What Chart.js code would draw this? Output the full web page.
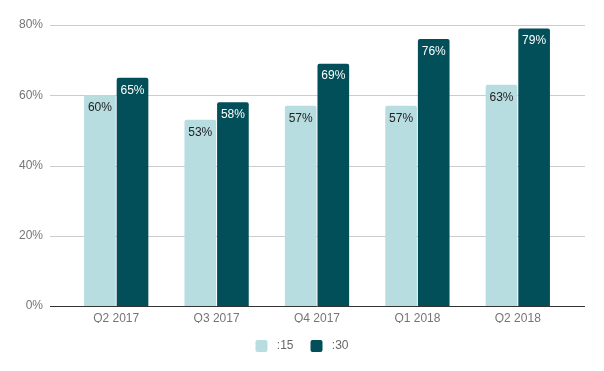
<!DOCTYPE html>
<html>
<head>
<meta charset="utf-8">
<script src="https://cdn.jsdelivr.net/npm/chart.js@4"></script>
<style>
  body { margin: 0; background: #fff; }
</style>
</head>
<body>
<canvas id="chart" width="604" height="371"></canvas>
<script>
var categories = ['Q2 2017', 'Q3 2017', 'Q4 2017', 'Q1 2018', 'Q2 2018'];
var values15 = [60, 53, 57, 57, 63];
var values30 = [65, 58, 69, 76, 79];
var yTicks = [0, 20, 40, 60, 80];

// gridlines are wider than the bar area, so draw them here
var gridPlugin = {
    id: 'grid',
    beforeDatasetsDraw: function (chart) {
        var ctx = chart.ctx;
        var y = chart.scales.y;
        ctx.save();
        yTicks.forEach(function (v) {
            var py = Math.round(y.getPixelForValue(v)) + 0.5;
            ctx.strokeStyle = v === 0 ? '#333333' : '#cccccc';
            ctx.lineWidth = 1;
            ctx.beginPath();
            ctx.moveTo(50, py);
            ctx.lineTo(585, py);
            ctx.stroke();
        });
        ctx.restore();
    }
};

// value labels inside the top of each bar
var labelPlugin = {
    id: 'labels',
    afterDatasetsDraw: function (chart) {
        var ctx = chart.ctx;
        ctx.save();
        ctx.font = '12px "Liberation Sans", Arial, sans-serif';
        ctx.textAlign = 'center';
        ctx.textBaseline = 'middle';
        chart.data.datasets.forEach(function (ds, i) {
            chart.getDatasetMeta(i).data.forEach(function (bar, j) {
                ctx.fillStyle = i === 0 ? '#222222' : '#ffffff';
                ctx.fillText(ds.data[j] + '%', bar.x, bar.y + 12.5);
            });
        });
        ctx.restore();
    }
};

var ctx = document.getElementById('chart').getContext('2d');
var chart = new Chart(ctx, {
    type: 'bar',
    data: {
        labels: categories,
        datasets: [{
            label: ':15',
            data: values15,
            backgroundColor: '#b7dde1',
            borderRadius: { topLeft: 2, topRight: 2 },
            borderSkipped: 'bottom',
            categoryPercentage: 0.65,
            barPercentage: 0.97
        }, {
            label: ':30',
            data: values30,
            backgroundColor: '#024f59',
            borderRadius: { topLeft: 2, topRight: 2 },
            borderSkipped: 'bottom',
            categoryPercentage: 0.65,
            barPercentage: 0.97
        }]
    },
    options: {
        responsive: false,
        animation: false,
        layout: { padding: { top: 25, right: 0, left: 0, bottom: 9 } },
        scales: {
            x: {
                grid: { display: false, drawTicks: false },
                border: { display: false },
                ticks: {
                    padding: 5,
                    color: '#757575',
                    font: { family: '"Liberation Sans", Arial, sans-serif', size: 12 }
                },
                afterFit: function (scale) { scale.height = 17; }
            },
            y: {
                min: 0,
                max: 80,
                grid: { display: false, drawTicks: false },
                border: { display: false },
                ticks: {
                    stepSize: 20,
                    padding: 23,
                    color: '#757575',
                    font: { family: '"Liberation Sans", Arial, sans-serif', size: 12 },
                    callback: function (v) { return v + '%'; }
                },
                afterFit: function (scale) {
                    scale.width = 66;
                    scale.paddingTop = 0;
                    scale.paddingBottom = 0;
                }
            },
            // empty right axis, only keeps the right margin
            y2: {
                position: 'right',
                grid: { display: false, drawTicks: false },
                border: { display: false },
                ticks: { display: false },
                afterFit: function (scale) {
                    scale.width = 36;
                    scale.paddingTop = 0;
                    scale.paddingBottom = 0;
                }
            }
        },
        plugins: {
            legend: {
                position: 'bottom',
                labels: {
                    boxWidth: 12,
                    boxHeight: 12,
                    padding: 17,
                    color: '#666666',
                    useBorderRadius: true,
                    borderRadius: 2,
                    font: { family: '"Liberation Sans", Arial, sans-serif', size: 12 },
                    generateLabels: function (chart) {
                        var items = Chart.defaults.plugins.legend.labels.generateLabels(chart);
                        items.forEach(function (it) { it.text = ' ' + it.text; });
                        return items;
                    }
                }
            },
            tooltip: { enabled: false }
        }
    },
    plugins: [gridPlugin, labelPlugin]
});
</script>
</body>
</html>
